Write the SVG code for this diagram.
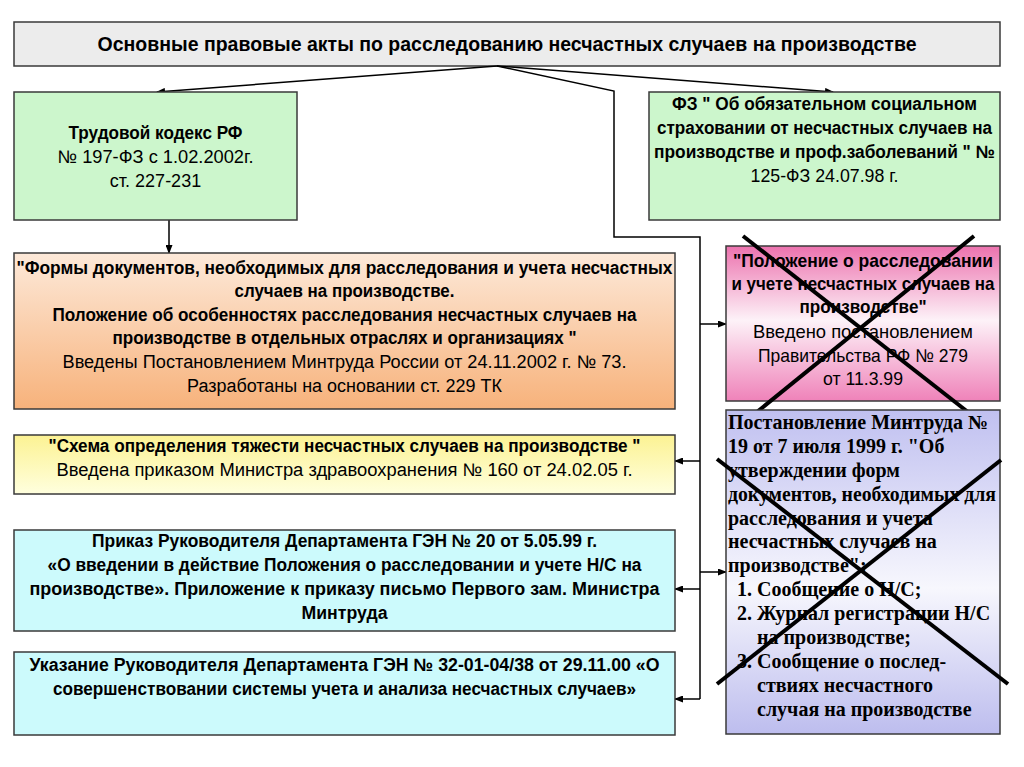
<svg xmlns="http://www.w3.org/2000/svg" width="1024" height="767" viewBox="0 0 1024 767">
<style>
.box{stroke:#3a3a3a;stroke-width:1.5}
.c{font-family:"Liberation Sans",Arial,sans-serif;font-size:18px;text-anchor:middle;fill:#000}
.b{font-weight:bold}
.p{font-family:"Liberation Sans",Arial,sans-serif;font-size:18.5px;text-anchor:middle;fill:#000}
.tm{font-family:"Liberation Serif","Times New Roman",serif;font-size:20px;font-weight:bold;fill:#000}
.ln{stroke:#000;stroke-width:1.5;fill:none}
.x{stroke:#000;stroke-width:4;stroke-linecap:butt}
</style>
<defs>
<marker id="ah" markerWidth="9" markerHeight="7" refX="8" refY="3.5" orient="auto" markerUnits="userSpaceOnUse">
<path d="M0,0 L9,3.5 L0,7 z" fill="#000"/>
</marker>
<linearGradient id="gOr" x1="0" y1="0" x2="0" y2="1">
<stop offset="0" stop-color="#fde9d9"/><stop offset="1" stop-color="#f7b27b"/>
</linearGradient>
<linearGradient id="gYe" x1="0" y1="0" x2="0" y2="1">
<stop offset="0" stop-color="#fcf293"/><stop offset="1" stop-color="#ffffde"/>
</linearGradient>
<linearGradient id="gPk" x1="0" y1="0" x2="0" y2="1">
<stop offset="0" stop-color="#ec72ae"/><stop offset="0.48" stop-color="#fdf2f8"/><stop offset="1" stop-color="#ef82b9"/>
</linearGradient>
<linearGradient id="gLv" x1="0" y1="0" x2="0" y2="1">
<stop offset="0" stop-color="#c0c0f0"/><stop offset="0.55" stop-color="#f7f7fd"/><stop offset="1" stop-color="#bdbdee"/>
</linearGradient>
</defs>

<g id="title">
<rect class="box" x="14" y="22" width="986" height="44" fill="#ececec"/>
<text class="c b" x="507" y="51" style="font-size:20px" textLength="819" lengthAdjust="spacingAndGlyphs">Основные правовые акты по расследованию несчастных случаев на производстве</text>
</g>

<g id="connectors">
<path class="ln" d="M497,66 L157,92" marker-end="url(#ah)"/>
<path class="ln" d="M497,66 L833,92" marker-end="url(#ah)"/>
<path class="ln" d="M497,66 L614,91 L614,237 L700,237 L700,699"/>
<path class="ln" d="M169,220 L169,253" marker-end="url(#ah)"/>
<path class="ln" d="M700,324 L726,324" marker-end="url(#ah)"/>
<path class="ln" d="M700,461 L675,461" marker-end="url(#ah)"/>
<path class="ln" d="M700,572 L726,572" marker-end="url(#ah)"/>
<path class="ln" d="M700,589 L675,589" marker-end="url(#ah)"/>
<path class="ln" d="M700,699 L675,699" marker-end="url(#ah)"/>
</g>

<g id="tk">
<rect class="box" x="14" y="92" width="283" height="128" fill="#ccf6cc"/>
<text class="c b" x="155.5" y="139" textLength="174" lengthAdjust="spacingAndGlyphs">Трудовой кодекс РФ</text>
<text class="c" x="155.5" y="163" textLength="196" lengthAdjust="spacingAndGlyphs">№ 197-ФЗ с 1.02.2002г.</text>
<text class="c" x="155.5" y="187">ст. 227-231</text>
</g>

<g id="fz125">
<rect class="box" x="649" y="92" width="351" height="128" fill="#ccf6cc"/>
<text class="c b" x="824.5" y="110" textLength="305" lengthAdjust="spacingAndGlyphs">ФЗ " Об обязательном социальном</text>
<text class="c b" x="824.5" y="134" textLength="335" lengthAdjust="spacingAndGlyphs">страховании от несчастных случаев на</text>
<text class="c b" x="824.5" y="158" textLength="341" lengthAdjust="spacingAndGlyphs">производстве и проф.заболеваний " №</text>
<text class="c" x="824.5" y="182" textLength="148" lengthAdjust="spacingAndGlyphs">125-ФЗ 24.07.98 г.</text>
</g>

<g id="forms">
<rect class="box" x="14" y="253" width="661" height="156" fill="url(#gOr)"/>
<text class="c b" x="344.5" y="274" textLength="656" lengthAdjust="spacingAndGlyphs">"Формы документов, необходимых для расследования и учета несчастных</text>
<text class="c b" x="344.5" y="297" textLength="220" lengthAdjust="spacingAndGlyphs">случаев на производстве.</text>
<text class="c b" x="344.5" y="321" textLength="584" lengthAdjust="spacingAndGlyphs">Положение об особенностях расследования несчастных случаев на</text>
<text class="c b" x="344.5" y="344" textLength="464" lengthAdjust="spacingAndGlyphs">производстве в отдельных отраслях и организациях "</text>
<text class="c" x="344.5" y="368" textLength="564" lengthAdjust="spacingAndGlyphs">Введены Постановлением Минтруда России от 24.11.2002 г. № 73.</text>
<text class="c" x="344.5" y="392" textLength="315" lengthAdjust="spacingAndGlyphs">Разработаны на основании ст. 229 ТК</text>
</g>

<g id="scheme">
<rect class="box" x="14" y="435" width="661" height="59" fill="url(#gYe)"/>
<text class="c b" x="344.5" y="452" textLength="592" lengthAdjust="spacingAndGlyphs">"Схема определения тяжести несчастных случаев на производстве "</text>
<text class="c" x="344.5" y="476" textLength="576" lengthAdjust="spacingAndGlyphs">Введена приказом Министра здравоохранения № 160 от 24.02.05 г.</text>
</g>

<g id="order20">
<rect class="box" x="14" y="530" width="661" height="101" fill="#ccfafc"/>
<text class="c b" x="344.5" y="547" textLength="505" lengthAdjust="spacingAndGlyphs">Приказ Руководителя Департамента ГЭН № 20 от 5.05.99 г.</text>
<text class="c b" x="344.5" y="571" textLength="594" lengthAdjust="spacingAndGlyphs">«О введении в действие Положения о расследовании и учете Н/С на</text>
<text class="c b" x="344.5" y="595" textLength="630" lengthAdjust="spacingAndGlyphs">производстве». Приложение к приказу письмо Первого зам. Министра</text>
<text class="c b" x="344.5" y="619" textLength="86" lengthAdjust="spacingAndGlyphs">Минтруда</text>
</g>

<g id="order32">
<rect class="box" x="14" y="652" width="661" height="83" fill="#ccfafc"/>
<text class="c b" x="344.5" y="671" textLength="630" lengthAdjust="spacingAndGlyphs">Указание Руководителя Департамента ГЭН № 32-01-04/38 от 29.11.00  «О</text>
<text class="c b" x="344.5" y="695" textLength="583" lengthAdjust="spacingAndGlyphs">совершенствовании системы учета и анализа несчастных случаев»</text>
</g>

<g id="polozhenie">
<rect class="box" x="726" y="246" width="274" height="155" fill="url(#gPk)"/>
<text class="p b" x="863" y="267" textLength="260" lengthAdjust="spacingAndGlyphs">"Положение о расследовании</text>
<text class="p b" x="863" y="290" textLength="263" lengthAdjust="spacingAndGlyphs">и учете несчастных случаев на</text>
<text class="p b" x="863" y="313" textLength="127" lengthAdjust="spacingAndGlyphs">производстве"</text>
<text class="p" x="863" y="338" textLength="220" lengthAdjust="spacingAndGlyphs">Введено постановлением</text>
<text class="p" x="863" y="362" textLength="210" lengthAdjust="spacingAndGlyphs">Правительства РФ № 279</text>
<text class="p" x="863" y="385" textLength="80" lengthAdjust="spacingAndGlyphs">от 11.3.99</text>
<line class="x" x1="743" y1="236" x2="973" y2="416"/>
<line class="x" x1="974" y1="236" x2="752" y2="416"/>
</g>

<g id="mintrud19">
<rect class="box" x="726" y="410" width="274" height="324" fill="url(#gLv)"/>
<text class="tm" x="728" y="429" textLength="260" lengthAdjust="spacingAndGlyphs">Постановление Минтруда №</text>
<text class="tm" x="728" y="453">19 от 7 июля 1999 г. "Об</text>
<text class="tm" x="728" y="477">утверждении форм</text>
<text class="tm" x="728" y="501" textLength="268" lengthAdjust="spacingAndGlyphs">документов, необходимых для</text>
<text class="tm" x="728" y="525">расследования и учета</text>
<text class="tm" x="728" y="548">несчастных случаев на</text>
<text class="tm" x="728" y="572">производстве":</text>
<text class="tm" x="737" y="596">1.</text><text class="tm" x="757" y="596">Сообщение о Н/С;</text>
<text class="tm" x="737" y="620">2.</text><text class="tm" x="757" y="620">Журнал регистрации Н/С</text>
<text class="tm" x="757" y="644">на производстве;</text>
<text class="tm" x="737" y="668">3.</text><text class="tm" x="757" y="668">Сообщение о послед-</text>
<text class="tm" x="757" y="692">ствиях несчастного</text>
<text class="tm" x="757" y="716">случая на производстве</text>
<line class="x" x1="717" y1="459" x2="1008" y2="684"/>
<line class="x" x1="1001" y1="460" x2="717" y2="684"/>
</g>
</svg>
